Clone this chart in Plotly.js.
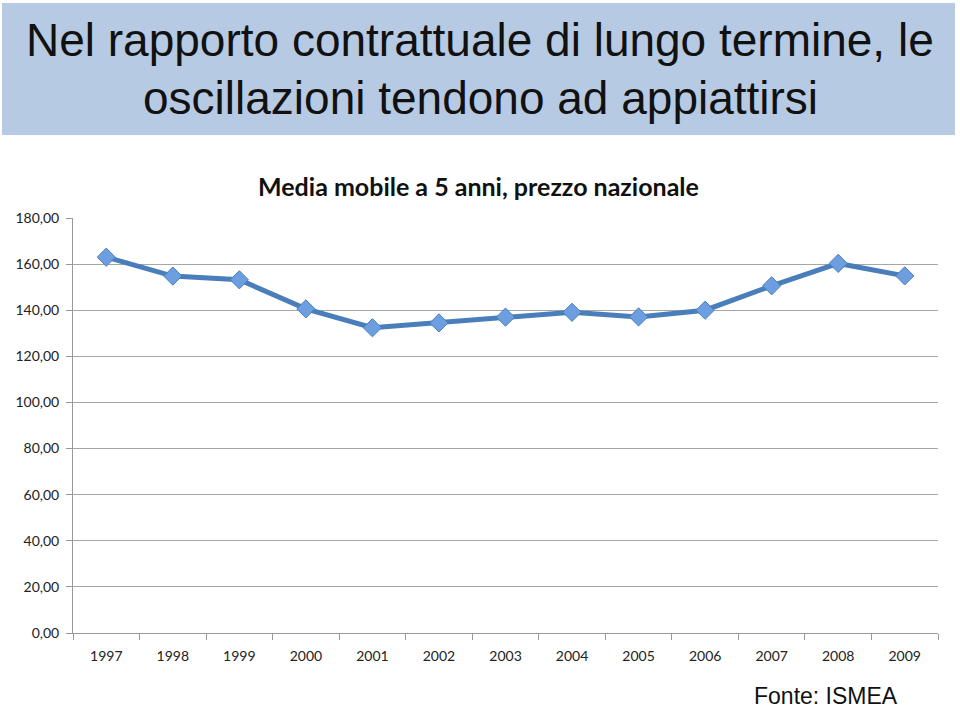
<!DOCTYPE html>
<html>
<head>
<meta charset="utf-8">
<script src="https://cdn.plot.ly/plotly-3.0.1.min.js"></script>
<style>html,body{margin:0;padding:0;background:#fff}#chart{width:960px;height:711px}</style>
</head>
<body>
<div id="chart"></div>
<script>
const years = ["1997","1998","1999","2000","2001","2002","2003","2004","2005","2006","2007","2008","2009"];
const mediaMobile = [163.0,154.8,153.2,140.6,132.4,134.5,137.0,139.1,137.1,140.0,150.6,160.3,154.9];
const yTicks = [0,20,40,60,80,100,120,140,160,180];
const mainTitle = ["Nel rapporto contrattuale di lungo termine, le","oscillazioni tendono ad appiattirsi"];
const chartTitle = "Media mobile a 5 anni, prezzo nazionale";
const source = "Fonte: ISMEA";

const L = 73, R = 938, T = 218, B = 633;
const px = x => (x - L) / (R - L);
const py = y => (B - y) / (B - T);

const trace = {
  x: years, y: mediaMobile, type: 'scatter', mode: 'lines+markers',
  line: {color: '#4a7ebb', width: 5},
  marker: {symbol: 'diamond', size: 14, color: '#6d9ee0', line: {color: '#4a7ebb', width: 1}},
  hoverinfo: 'skip'
};

const layout = {
  width: 960, height: 711,
  margin: {l: L, r: 960 - R, t: T, b: 711 - B},
  paper_bgcolor: '#ffffff', plot_bgcolor: '#ffffff',
  separators: ',.',
  showlegend: false,
  xaxis: {
    type: 'category', range: [-0.5, years.length - 0.5], tickson: 'boundaries', ticks: 'outside', ticklen: 6, tickcolor: '#999999',
    showline: true, linecolor: '#999999', linewidth: 1, showgrid: false,
    ticklabelstandoff: 10,
    tickfont: {family: 'Lato, "Open Sans", sans-serif', size: 14, color: '#222222'},
    fixedrange: true
  },
  yaxis: {
    range: [0, 180], tickvals: yTicks, tickformat: '.2f', ticks: 'outside', ticklen: 6, tickcolor: '#999999',
    showline: true, linecolor: '#999999', linewidth: 1,
    showgrid: true, gridcolor: '#a6a6a6', gridwidth: 1, zeroline: false,
    ticklabelstandoff: 4,
    tickfont: {family: 'Lato, "Open Sans", sans-serif', size: 14, color: '#222222'},
    fixedrange: true
  },
  shapes: [{
    type: 'rect', xref: 'paper', yref: 'paper', layer: 'below',
    x0: px(2), x1: px(955), y0: py(3), y1: py(135),
    fillcolor: '#b6cae3', line: {width: 0}
  }],
  annotations: [
    {text: mainTitle[0], xref: 'paper', yref: 'paper', x: px(480), y: py(40), xanchor: 'center', yanchor: 'middle', showarrow: false,
     font: {family: '"Liberation Sans", Arial, sans-serif', size: 46, color: '#111111'}},
    {text: mainTitle[1], xref: 'paper', yref: 'paper', x: px(480), y: py(98), xanchor: 'center', yanchor: 'middle', showarrow: false,
     font: {family: '"Liberation Sans", Arial, sans-serif', size: 46, color: '#111111'}},
    {text: '<b>' + chartTitle + '</b>', xref: 'paper', yref: 'paper', x: px(478), y: py(186), xanchor: 'center', yanchor: 'middle', showarrow: false,
     font: {family: 'Lato, "Open Sans", sans-serif', size: 25, color: '#111111'}},
    {text: source, xref: 'paper', yref: 'paper', x: px(900), y: py(711), xanchor: 'right', yanchor: 'bottom', showarrow: false,
     font: {family: '"Liberation Sans", Arial, sans-serif', size: 23, color: '#111111'}}
  ]
};

Plotly.newPlot('chart', [trace], layout, {displayModeBar: false, staticPlot: true});
</script>
</body>
</html>
